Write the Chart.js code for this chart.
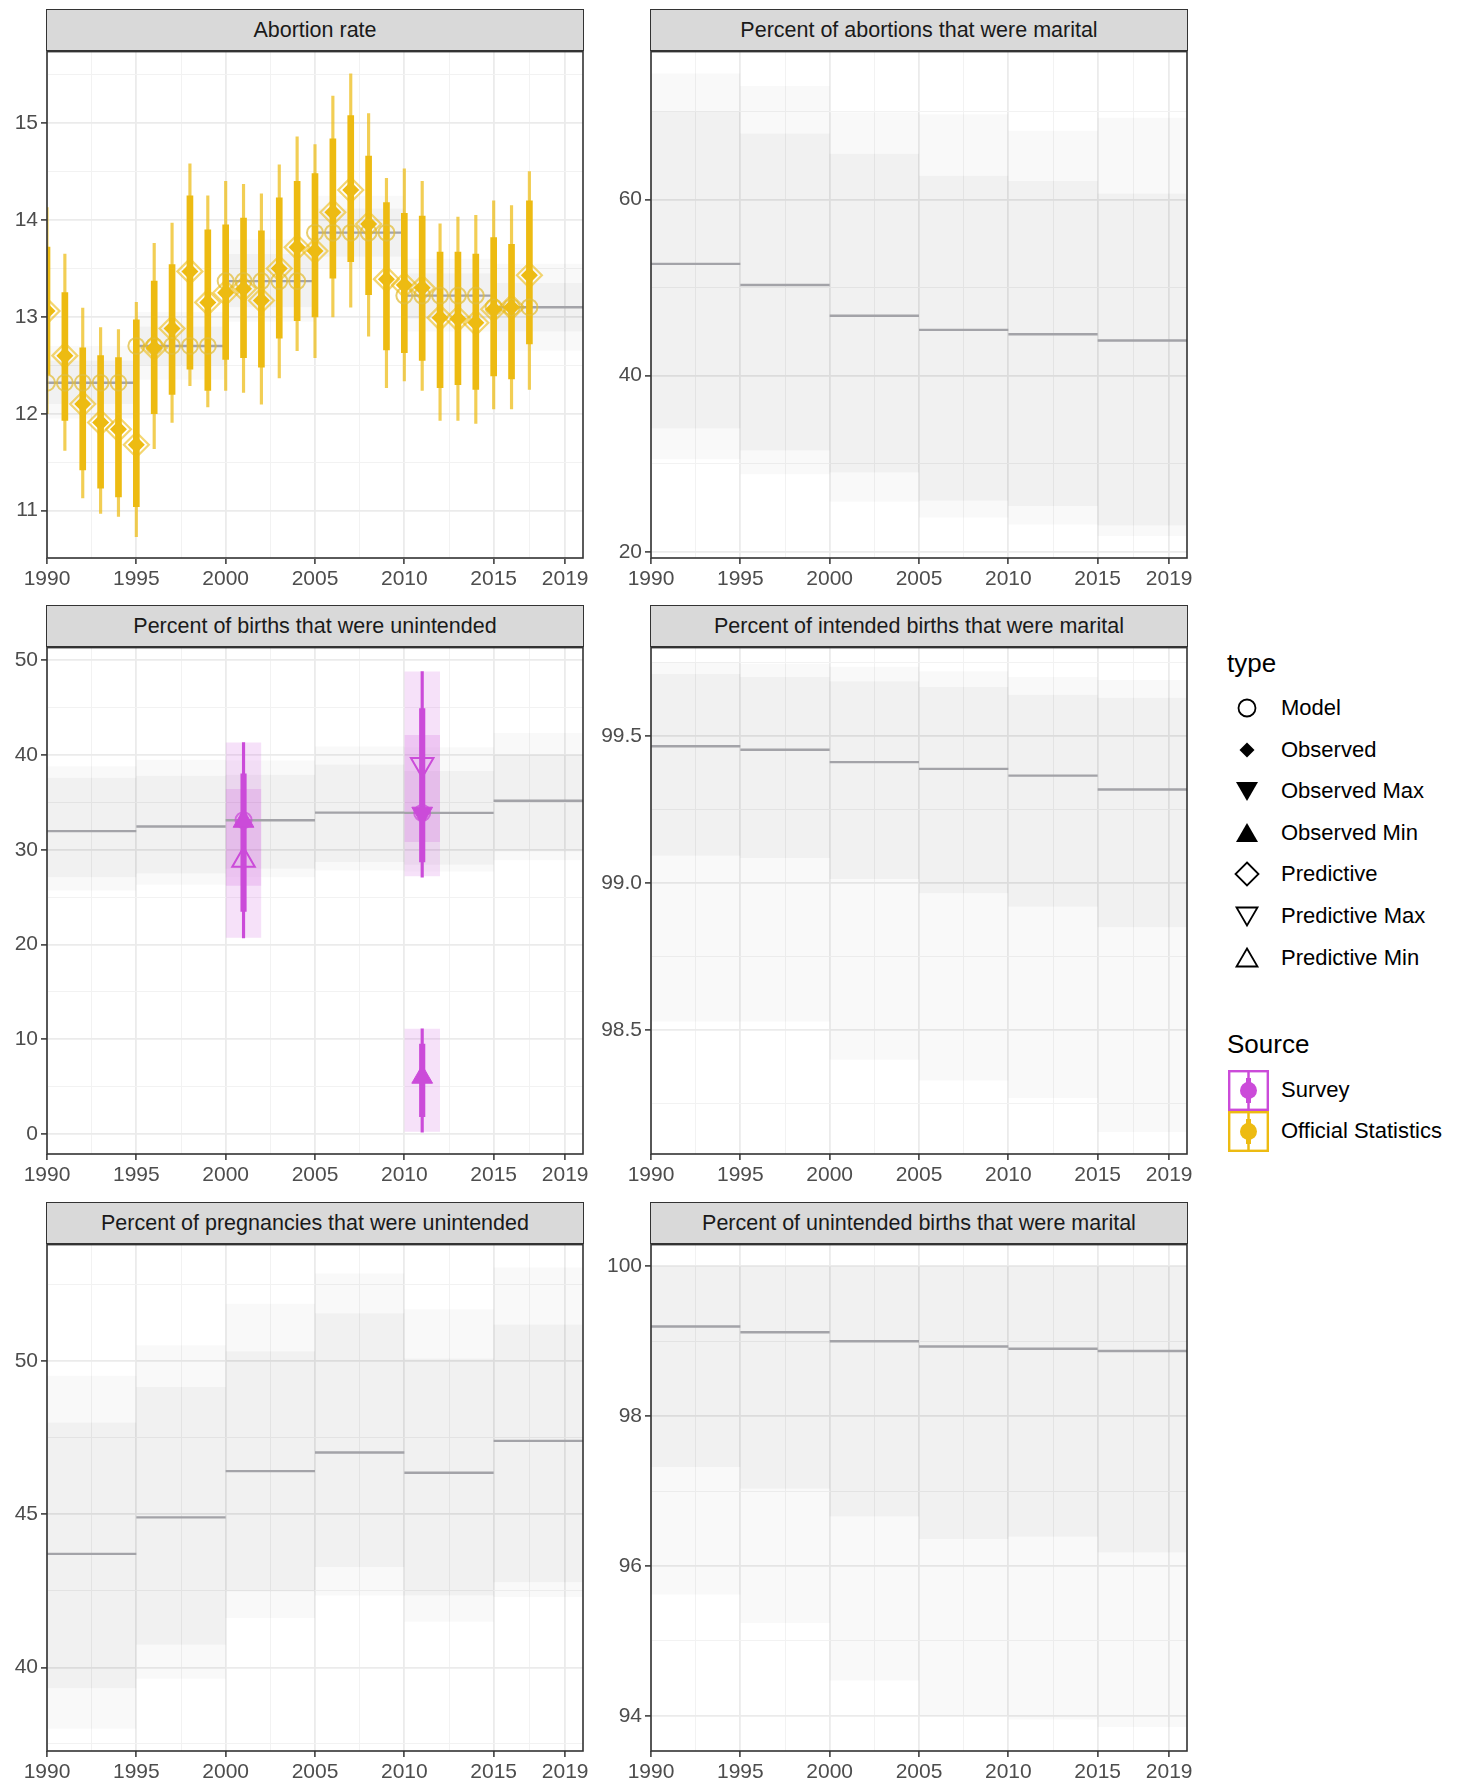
<!DOCTYPE html>
<html>
<head>
<meta charset="utf-8">
<script src="https://cdn.jsdelivr.net/npm/chart.js@4.4.1/dist/chart.umd.min.js"></script>
<style>
  body { margin: 0; background: #fff; }
  #page { position: relative; width: 1457px; height: 1787px; overflow: hidden; font-family: "Liberation Sans", Arial, sans-serif; }
  canvas { position: absolute; }
  .strip { position: absolute; box-sizing: border-box; background: #d9d9d9; border: 1.6px solid #333; color: #1a1a1a;
           font-size: 21.5px; display: flex; align-items: center; justify-content: center; }
  .lg-title { position: absolute; font-size: 26px; line-height: 30px; color: #000; }
  .lg-text { position: absolute; font-size: 22px; line-height: 26px; color: #000; white-space: nowrap; }
  .lg-key { position: absolute; }
</style>
</head>
<body>
<div id="page"></div>
<script>
const FONT = '"Liberation Sans", Arial, sans-serif';
const YELLOW = '#EDBB12';
const PURPLE = '#CB4BD9';

// periods of the model (5-year steps)
const periodStart = [1990, 1995, 2000, 2005, 2010, 2015];
const periodEnd = [1995, 2000, 2005, 2010, 2015, 2020];
const xTickValues = [1990, 1995, 2000, 2005, 2010, 2015, 2019];
const xMinorValues = [1992.5, 1997.5, 2002.5, 2007.5, 2012.5, 2017];

const panelTitles = [
  'Abortion rate',
  'Percent of abortions that were marital',
  'Percent of births that were unintended',
  'Percent of intended births that were marital',
  'Percent of pregnancies that were unintended',
  'Percent of unintended births that were marital'
];

// Abortion rate (official statistics)
const abYears = [1990, 1991, 1992, 1993, 1994, 1995, 1996, 1997, 1998, 1999, 2000, 2001, 2002, 2003,
                 2004, 2005, 2006, 2007, 2008, 2009, 2010, 2011, 2012, 2013, 2014, 2015, 2016, 2017];
const abObserved = [13.06, 12.60, 12.10, 11.91, 11.84, 11.68, 12.68, 12.88, 13.47, 13.15, 13.25, 13.29, 13.17, 13.50,
                    13.72, 13.68, 14.08, 14.31, 13.96, 13.39, 13.33, 13.30, 12.99, 12.98, 12.94, 13.08, 13.10, 13.43];
const abHi95 = [14.13, 13.65, 13.09, 12.89, 12.87, 13.15, 13.76, 13.97, 14.58, 14.25, 14.40, 14.37, 14.27, 14.57,
                14.86, 14.78, 15.28, 15.51, 15.10, 14.43, 14.53, 14.40, 13.96, 14.03, 14.05, 14.20, 14.15, 14.50];
const abHi80 = [13.72, 13.25, 12.68, 12.60, 12.58, 12.97, 13.37, 13.54, 14.25, 13.90, 13.95, 14.02, 13.89, 14.23,
                14.40, 14.48, 14.84, 15.08, 14.66, 14.18, 14.07, 14.04, 13.67, 13.67, 13.65, 13.82, 13.75, 14.20];
const abLo80 = [12.40, 11.93, 11.42, 11.23, 11.14, 11.04, 12.00, 12.20, 12.46, 12.24, 12.56, 12.58, 12.48, 12.78,
                12.96, 13.00, 13.40, 13.57, 13.23, 12.66, 12.63, 12.55, 12.27, 12.30, 12.25, 12.39, 12.36, 12.72];
const abLo95 = [12.00, 11.62, 11.13, 10.97, 10.94, 10.73, 11.64, 11.91, 12.29, 12.07, 12.24, 12.22, 12.10, 12.37,
                12.65, 12.58, 13.00, 13.10, 12.80, 12.27, 12.34, 12.24, 11.93, 11.93, 11.90, 12.05, 12.05, 12.25];
const abModelPts = [12.32, 12.32, 12.32, 12.32, 12.32, 12.70, 12.70, 12.70, 12.70, 12.70, 13.37, 13.37, 13.37, 13.37,
                    13.37, 13.87, 13.87, 13.87, 13.87, 13.87, 13.22, 13.22, 13.22, 13.22, 13.22, 13.10, 13.10, 13.10];
const abModel = [12.32, 12.70, 13.37, 13.87, 13.22, 13.10];
const abOuterLo = [11.95, 12.35, 12.95, 13.50, 12.85, 12.65];
const abOuterHi = [12.70, 13.05, 13.80, 14.25, 13.60, 13.55];
const abInnerLo = [12.10, 12.50, 13.10, 13.62, 12.98, 12.85];
const abInnerHi = [12.55, 12.90, 13.65, 14.12, 13.45, 13.35];

// Percent of abortions that were marital
const amModel = [52.7, 50.3, 46.8, 45.2, 44.7, 44.0];
const amOuterLo = [30.5, 28.8, 25.7, 23.9, 23.1, 21.8];
const amOuterHi = [74.3, 72.9, 69.9, 69.7, 67.8, 69.3];
const amInnerLo = [34.0, 31.5, 29.0, 25.8, 25.2, 23.0];
const amInnerHi = [70.0, 67.5, 65.2, 62.7, 62.1, 60.7];

// Percent of births that were unintended
const buModel = [31.96, 32.45, 33.11, 33.91, 33.88, 35.17];
const buOuterLo = [25.7, 26.3, 27.1, 27.8, 27.7, 28.9];
const buOuterHi = [38.8, 39.5, 39.4, 40.9, 40.8, 42.3];
const buInnerLo = [27.1, 27.5, 28.0, 28.7, 28.4, 29.8];
const buInnerHi = [37.6, 37.8, 37.9, 39.0, 38.3, 40.0];
// survey observations
const svYears = [2001, 2011, 2011];
const svRectStart = [2000, 2010, 2010];
const svRectEnd = [2002, 2012, 2012];
const svRectLo = [20.7, 27.2, 0.25];
const svRectHi = [41.3, 48.8, 11.1];
const svInnerLo = [26.2, 30.8];
const svInnerHi = [36.4, 42.1];
const svLo95 = [20.7, 27.1, 0.2];
const svHi95 = [41.3, 48.8, 11.1];
const svLo80 = [23.5, 28.7, 1.85];
const svHi80 = [38.0, 44.9, 9.5];
const svModelYears = [2001, 2011];
const svModelPts = [33.11, 33.88];
const svObsMinYears = [2001, 2011];
const svObsMin = [33.0, 6.0];
const svObsMaxYears = [2011];
const svObsMax = [33.85];
const svPredMinYears = [2001];
const svPredMin = [28.9];
const svPredMaxYears = [2011];
const svPredMax = [39.0];

// Percent of intended births that were marital
const imModel = [99.465, 99.453, 99.411, 99.388, 99.365, 99.318];
const imOuterLo = [98.53, 98.53, 98.40, 98.33, 98.27, 98.155];
const imOuterHi = [99.75, 99.745, 99.735, 99.72, 99.70, 99.69];
const imInnerLo = [99.093, 99.085, 99.014, 98.966, 98.92, 98.85];
const imInnerHi = [99.71, 99.70, 99.686, 99.666, 99.64, 99.63];

// Percent of pregnancies that were unintended
const puModel = [43.71, 44.90, 46.41, 47.02, 46.36, 47.40];
const puOuterLo = [38.0, 39.63, 41.61, 42.35, 41.49, 42.3];
const puOuterHi = [49.53, 50.52, 51.88, 52.87, 51.7, 53.06];
const puInnerLo = [39.32, 40.74, 42.48, 43.28, 42.35, 42.78];
const puInnerHi = [48.0, 49.16, 50.33, 51.57, 50.09, 51.2];

// Percent of unintended births that were marital
const umModel = [99.196, 99.12, 99.0, 98.93, 98.90, 98.87];
const umOuterLo = [95.62, 95.24, 94.47, 94.0, 93.95, 93.85];
const umOuterHi = [100, 100, 100, 100, 100, 100];
const umInnerLo = [97.32, 97.03, 96.66, 96.36, 96.39, 96.18];
const umInnerHi = [100, 100, 100, 100, 100, 100];

const legendTypes = ['Model', 'Observed', 'Observed Max', 'Observed Min', 'Predictive', 'Predictive Max', 'Predictive Min'];
const legendSources = ['Survey', 'Official Statistics'];
const sourceColors = [PURPLE, YELLOW];

// ---------- helpers ----------
function zip(xs, ys) { return xs.map((x, i) => ({ x: x, y: ys[i] })); }

function bandPts(vals) {
  const pts = [];
  vals.forEach((v, i) => { pts.push({ x: periodStart[i], y: v }, { x: periodEnd[i], y: v }); });
  return pts;
}

function stepPts(vals) {
  const pts = [];
  vals.forEach((v, i) => {
    pts.push({ x: periodStart[i], y: v }, { x: periodEnd[i], y: v }, { x: periodEnd[i], y: null });
  });
  return pts;
}

function fillPair(hiPts, loPts, color, order) {
  const base = { type: 'line', borderWidth: 0, pointRadius: 0, order: order, clip: 0 };
  return [
    Object.assign({ data: hiPts, fill: '+1', backgroundColor: color }, base),
    Object.assign({ data: loPts, fill: false }, base)
  ];
}

function bands(outerLo, outerHi, innerLo, innerHi) {
  return [
    ...fillPair(bandPts(outerHi), bandPts(outerLo), 'rgba(0,0,0,0.025)', 30),
    ...fillPair(bandPts(innerHi), bandPts(innerLo), 'rgba(0,0,0,0.037)', 29)
  ];
}

function modelLine(vals) {
  return { type: 'line', data: stepPts(vals), borderColor: '#A3A3A8', borderWidth: 2.4, pointRadius: 0,
           fill: false, spanGaps: false, order: 20, clip: 0 };
}

function errBars(xs, lo, hi, color, thickness, order) {
  return { type: 'bar', data: xs.map((x, i) => ({ x: x, y: [lo[i], hi[i]] })), backgroundColor: color,
           barThickness: thickness, grouped: false, borderWidth: 0, order: order, clip: 0 };
}

function marks(xs, ys, opts) {
  return Object.assign({ type: 'line', data: zip(xs, ys), showLine: false, clip: 0 }, opts);
}

// ---------- datasets per panel ----------
const abSets = [
  ...bands(abOuterLo, abOuterHi, abInnerLo, abInnerHi),
  modelLine(abModel),
  errBars(abYears, abLo95, abHi95, 'rgba(237,187,18,0.72)', 2.5, 15),
  errBars(abYears, abLo80, abHi80, YELLOW, 6, 14),
  marks(abYears, abModelPts, { pointStyle: 'circle', pointRadius: 8, pointBackgroundColor: 'rgba(0,0,0,0)',
        pointBorderColor: 'rgba(225,190,60,0.75)', pointBorderWidth: 2, order: 13 }),
  marks(abYears, abObserved, { pointStyle: 'rectRot', pointRadius: 12.5, pointBackgroundColor: 'rgba(0,0,0,0)',
        pointBorderColor: 'rgba(237,187,18,0.6)', pointBorderWidth: 2.2, order: 12 }),
  marks(abYears, abObserved, { pointStyle: 'rectRot', pointRadius: 8.5, pointBackgroundColor: YELLOW,
        pointBorderColor: YELLOW, pointBorderWidth: 0, order: 11 })
];

const amSets = [...bands(amOuterLo, amOuterHi, amInnerLo, amInnerHi), modelLine(amModel)];

const svRectSets = [];
svYears.forEach((y, i) => {
  svRectSets.push(...fillPair([{ x: svRectStart[i], y: svRectHi[i] }, { x: svRectEnd[i], y: svRectHi[i] }],
                              [{ x: svRectStart[i], y: svRectLo[i] }, { x: svRectEnd[i], y: svRectLo[i] }],
                              'rgba(203,75,217,0.17)', 25));
});
svInnerLo.forEach((lo, i) => {
  svRectSets.push(...fillPair([{ x: svRectStart[i], y: svInnerHi[i] }, { x: svRectEnd[i], y: svInnerHi[i] }],
                              [{ x: svRectStart[i], y: lo }, { x: svRectEnd[i], y: lo }],
                              'rgba(203,75,217,0.18)', 24));
});

const buSets = [
  ...bands(buOuterLo, buOuterHi, buInnerLo, buInnerHi),
  ...svRectSets,
  modelLine(buModel),
  errBars(svYears, svLo95, svHi95, PURPLE, 2.5, 15),
  errBars(svYears, svLo80, svHi80, PURPLE, 5.5, 14),
  marks(svModelYears, svModelPts, { pointStyle: 'circle', pointRadius: 8, pointBackgroundColor: 'rgba(0,0,0,0)',
        pointBorderColor: 'rgba(203,75,217,0.75)', pointBorderWidth: 2, order: 13 }),
  marks(svPredMinYears, svPredMin, { pointStyle: 'triangle', pointRadius: 13, pointBackgroundColor: 'rgba(0,0,0,0)',
        pointBorderColor: PURPLE, pointBorderWidth: 2, order: 12 }),
  marks(svPredMaxYears, svPredMax, { pointStyle: 'triangle', pointRotation: 180, pointRadius: 13,
        pointBackgroundColor: 'rgba(0,0,0,0)', pointBorderColor: PURPLE, pointBorderWidth: 2, order: 12 }),
  marks(svObsMinYears, svObsMin, { pointStyle: 'triangle', pointRadius: 12, pointBackgroundColor: PURPLE,
        pointBorderColor: PURPLE, pointBorderWidth: 1, order: 11 }),
  marks(svObsMaxYears, svObsMax, { pointStyle: 'triangle', pointRotation: 180, pointRadius: 12,
        pointBackgroundColor: PURPLE, pointBorderColor: PURPLE, pointBorderWidth: 1, order: 11 })
];

const imSets = [...bands(imOuterLo, imOuterHi, imInnerLo, imInnerHi), modelLine(imModel)];
const puSets = [...bands(puOuterLo, puOuterHi, puInnerLo, puInnerHi), modelLine(puModel)];
const umSets = [...bands(umOuterLo, umOuterHi, umInnerLo, umInnerHi), modelLine(umModel)];

// ---------- layout ----------
const PAD_TOP = 14;
const PLOT_W = 536;
const PLOT_H = 508;
const XAXIS_H = 40;
const rowTops = [50, 646, 1243];
const colSetup = [
  { canvasLeft: 0, yAxisW: 47 },
  { canvasLeft: 600, yAxisW: 51 }
];

const panels = [
  { title: panelTitles[0], col: 0, row: 0, yMin: 10.51, yMax: 15.74, yMajor: [11, 12, 13, 14, 15],
    yMinor: [10.5, 11.5, 12.5, 13.5, 14.5, 15.5], dec: 0, datasets: abSets },
  { title: panelTitles[1], col: 1, row: 0, yMin: 19.3, yMax: 76.8, yMajor: [20, 40, 60],
    yMinor: [30, 50, 70], dec: 0, datasets: amSets },
  { title: panelTitles[2], col: 0, row: 1, yMin: -2.1, yMax: 51.32, yMajor: [0, 10, 20, 30, 40, 50],
    yMinor: [5, 15, 25, 35, 45], dec: 0, datasets: buSets },
  { title: panelTitles[3], col: 1, row: 1, yMin: 98.08, yMax: 99.8, yMajor: [98.5, 99, 99.5],
    yMinor: [98.25, 98.75, 99.25, 99.75], dec: 1, datasets: imSets },
  { title: panelTitles[4], col: 0, row: 2, yMin: 37.27, yMax: 53.81, yMajor: [40, 45, 50],
    yMinor: [37.5, 42.5, 47.5, 52.5], dec: 0, datasets: puSets },
  { title: panelTitles[5], col: 1, row: 2, yMin: 93.53, yMax: 100.29, yMajor: [94, 96, 98, 100],
    yMinor: [95, 97, 99], dec: 0, datasets: umSets }
];

const panelBorder = {
  id: 'panelBorder',
  afterDraw(chart) {
    const a = chart.chartArea;
    const ctx = chart.ctx;
    ctx.save();
    ctx.strokeStyle = '#333333';
    ctx.lineWidth = 1.6;
    ctx.strokeRect(a.left, a.top, a.right - a.left, a.bottom - a.top);
    ctx.restore();
  }
};

const page = document.getElementById('page');

function gridOpts(minor) {
  const isMinor = (ctx) => ctx.tick && minor.includes(ctx.tick.value);
  return {
    offset: false,
    color: (ctx) => isMinor(ctx) ? '#F2F2F2' : '#EBEBEB',
    lineWidth: (ctx) => isMinor(ctx) ? 1 : 1.8,
    tickColor: (ctx) => isMinor(ctx) ? 'rgba(0,0,0,0)' : '#333333',
    tickWidth: 1.5,
    tickLength: 6,
    drawTicks: true
  };
}

panels.forEach((p) => {
  const c = colSetup[p.col];
  const plotTop = rowTops[p.row];
  const canvas = document.createElement('canvas');
  canvas.width = c.yAxisW + PLOT_W + 15;
  canvas.height = PAD_TOP + PLOT_H + XAXIS_H;
  canvas.style.left = c.canvasLeft + 'px';
  canvas.style.top = (plotTop - PAD_TOP) + 'px';
  page.appendChild(canvas);

  const strip = document.createElement('div');
  strip.className = 'strip';
  strip.textContent = p.title;
  strip.style.left = (c.canvasLeft + c.yAxisW - 0.8) + 'px';
  strip.style.width = (PLOT_W + 1.6) + 'px';
  strip.style.top = (plotTop - 41) + 'px';
  strip.style.height = '42px';
  page.appendChild(strip);

  const xAll = [...xTickValues, ...xMinorValues].sort((a, b) => a - b);
  const yAll = [...p.yMajor, ...p.yMinor].sort((a, b) => a - b);

  new Chart(canvas, {
    type: 'line',
    data: { datasets: p.datasets },
    options: {
      responsive: false,
      animation: false,
      events: [],
      layout: { padding: { top: PAD_TOP, right: 15, left: 0, bottom: 0 } },
      plugins: { legend: { display: false }, tooltip: { enabled: false } },
      scales: {
        x: {
          type: 'linear', min: 1990, max: 2020, offset: false,
          afterBuildTicks: (s) => { s.ticks = xAll.map((v) => ({ value: v })); },
          afterFit: (s) => { s.height = XAXIS_H; },
          ticks: {
            autoSkip: false, maxRotation: 0, minRotation: 0, padding: 3, color: '#4D4D4D',
            font: { family: FONT, size: 21 },
            callback: (v) => xTickValues.includes(v) ? String(v) : ''
          },
          grid: gridOpts(xMinorValues),
          border: { display: false }
        },
        y: {
          type: 'linear', min: p.yMin, max: p.yMax,
          afterBuildTicks: (s) => { s.ticks = yAll.map((v) => ({ value: v })); },
          afterFit: (s) => { s.width = c.yAxisW; },
          ticks: {
            autoSkip: false, padding: 3, color: '#4D4D4D',
            font: { family: FONT, size: 21 },
            callback: (v) => p.yMajor.includes(v) ? v.toFixed(p.dec) : ''
          },
          grid: gridOpts(p.yMinor),
          border: { display: false }
        }
      }
    },
    plugins: [panelBorder]
  });
});

// ---------- legend ----------
const typeSymbols = {
  'Model': '<circle cx="15" cy="15" r="8.5" fill="none" stroke="#000" stroke-width="1.8"/>',
  'Observed': '<polygon points="15,7.5 22.5,15 15,22.5 7.5,15" fill="#000"/>',
  'Observed Max': '<polygon points="4,6 26,6 15,25" fill="#000"/>',
  'Observed Min': '<polygon points="15,5 26,24 4,24" fill="#000"/>',
  'Predictive': '<polygon points="15,3.5 26.5,15 15,26.5 3.5,15" fill="none" stroke="#000" stroke-width="1.8"/>',
  'Predictive Max': '<polygon points="4.5,6.5 25.5,6.5 15,24.5" fill="none" stroke="#000" stroke-width="1.8"/>',
  'Predictive Min': '<polygon points="15,5.5 25.5,23.5 4.5,23.5" fill="none" stroke="#000" stroke-width="1.8"/>'
};

function addEl(cls, text, left, top) {
  const d = document.createElement('div');
  d.className = cls;
  d.textContent = text;
  d.style.left = left + 'px';
  d.style.top = top + 'px';
  page.appendChild(d);
  return d;
}

addEl('lg-title', 'type', 1227, 648);
legendTypes.forEach((name, i) => {
  const cy = 708 + i * 41.6;
  const k = document.createElement('div');
  k.className = 'lg-key';
  k.style.left = (1247 - 15) + 'px';
  k.style.top = (cy - 15) + 'px';
  k.innerHTML = '<svg width="30" height="30" viewBox="0 0 30 30">' + typeSymbols[name] + '</svg>';
  page.appendChild(k);
  addEl('lg-text', name, 1281, cy - 13);
});

addEl('lg-title', 'Source', 1227, 1029);
legendSources.forEach((name, i) => {
  const top = 1070 + i * 41;
  const col = sourceColors[i];
  const k = document.createElement('div');
  k.className = 'lg-key';
  k.style.left = '1228px';
  k.style.top = top + 'px';
  k.innerHTML = '<svg width="41" height="41" viewBox="0 0 41 41">' +
    '<rect x="1.2" y="1.2" width="38.6" height="38.6" fill="#fff" stroke="' + col + '" stroke-width="2.4"/>' +
    '<line x1="20.5" y1="2" x2="20.5" y2="39" stroke="' + col + '" stroke-width="2.5"/>' +
    '<line x1="20.5" y1="8" x2="20.5" y2="33" stroke="' + col + '" stroke-width="5"/>' +
    '<circle cx="20.5" cy="20.5" r="8.5" fill="' + col + '"/></svg>';
  page.appendChild(k);
  addEl('lg-text', name, 1281, top + 20 - 13);
});
</script>
</body>
</html>
